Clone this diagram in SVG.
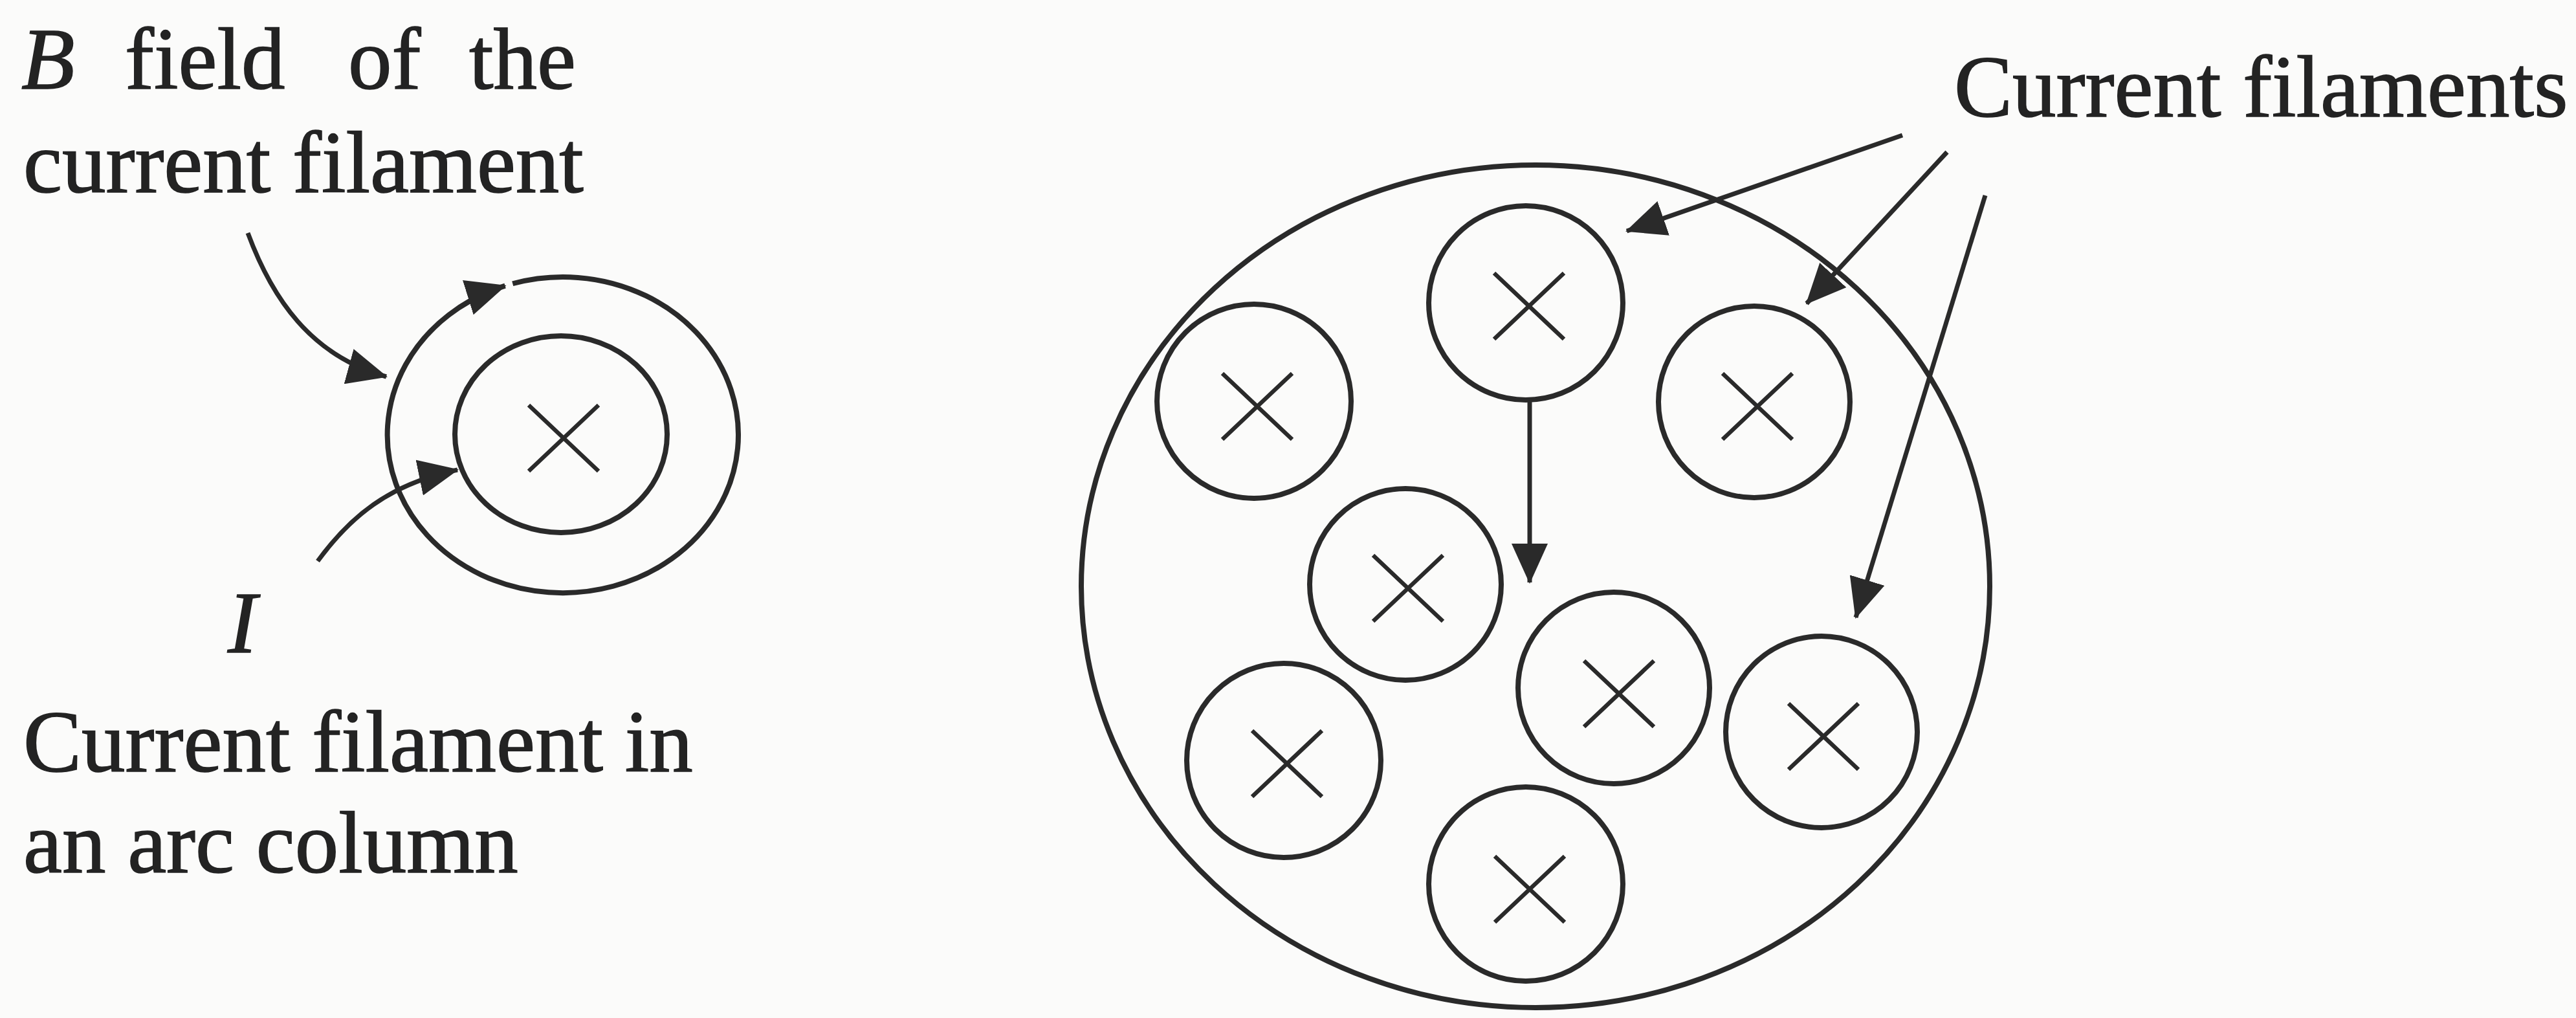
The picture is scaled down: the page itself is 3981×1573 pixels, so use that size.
<svg xmlns="http://www.w3.org/2000/svg" width="3981" height="1573" viewBox="0 0 3981 1573">
<defs>
<style>
text{font-family:"Liberation Serif","DejaVu Serif",serif;font-size:135px;fill:#232323;stroke:#232323;stroke-width:1.6}
.it{font-style:italic}
.ring{fill:none;stroke:#2a2a2a;stroke-width:8}
.cross{stroke:#2a2a2a;stroke-width:6.5;stroke-linecap:butt}
.con{fill:none;stroke:#2a2a2a;stroke-width:7}
</style>
<marker id="ah" viewBox="0 0 62 56" refX="60" refY="28" markerWidth="62" markerHeight="56" markerUnits="userSpaceOnUse" orient="auto">
<path d="M0,0 L62,28 L0,56 z" fill="#2a2a2a"/>
</marker>
<g id="xmark"><path class="cross" d="M-54,-51 L54,51 M-54,51 L54,-51"/></g>
</defs>
<rect width="3981" height="1573" fill="#fbfbfa"/>

<g id="label-bfield">
<text y="137"><tspan class="it" x="33">B</tspan><tspan x="193">field</tspan><tspan x="538">of</tspan><tspan x="725">the</tspan></text>
<text x="36" y="297">current filament</text>
</g>
<g id="label-I"><text class="it" x="352" y="1008">I</text></g>
<g id="label-column">
<text x="36" y="1192">Current filament in</text>
<text x="36" y="1348">an arc column</text>
</g>
<g id="label-filaments"><text x="3020" y="180">Current filaments</text></g>

<g id="single-filament">
<path id="b-field-ring" class="ring" d="M792.25,438.25 A271,244 0 0 1 947.75,905.75 A271,244 0 0 1 780.57,441.66" marker-end="url(#ah)"/>
<ellipse id="current-core" class="ring" cx="867" cy="671" rx="164" ry="152"/>
<use href="#xmark" x="871" y="677"/>
</g>

<g id="arc-column">
<ellipse id="column-boundary" class="ring" cx="2373" cy="906" rx="702" ry="651"/>
<g id="f1"><circle class="ring" cx="2358" cy="468" r="150"/><use href="#xmark" x="2363" y="473"/></g>
<g id="f2"><circle class="ring" cx="1938" cy="620" r="150"/><use href="#xmark" x="1943" y="628"/></g>
<g id="f3"><circle class="ring" cx="2711" cy="621" r="148"/><use href="#xmark" x="2716" y="628"/></g>
<g id="f4"><circle class="ring" cx="2172" cy="903" r="148"/><use href="#xmark" x="2176" y="909"/></g>
<g id="f5"><circle class="ring" cx="1984" cy="1175" r="150"/><use href="#xmark" x="1989" y="1180"/></g>
<g id="f6"><circle class="ring" cx="2494" cy="1063" r="148"/><use href="#xmark" x="2502" y="1072"/></g>
<g id="f7"><circle class="ring" cx="2815" cy="1131" r="148"/><use href="#xmark" x="2818" y="1138"/></g>
<g id="f8"><circle class="ring" cx="2358" cy="1366" r="150"/><use href="#xmark" x="2364" y="1374"/></g>
</g>

<g id="connectors">
<path class="con" d="M383,360 C420,460 480,550 597,582" marker-end="url(#ah)"/>
<path class="con" d="M491,867 C540,800 600,748 707,726" marker-end="url(#ah)"/>
<path class="con" d="M2940,209 L2514,357" marker-end="url(#ah)"/>
<path class="con" d="M3009,235 L2792,469" marker-end="url(#ah)"/>
<path class="con" d="M3068,302 L2868,954" marker-end="url(#ah)"/>
<path class="con" d="M2364,618 L2364,900" marker-end="url(#ah)"/>
</g>
</svg>
